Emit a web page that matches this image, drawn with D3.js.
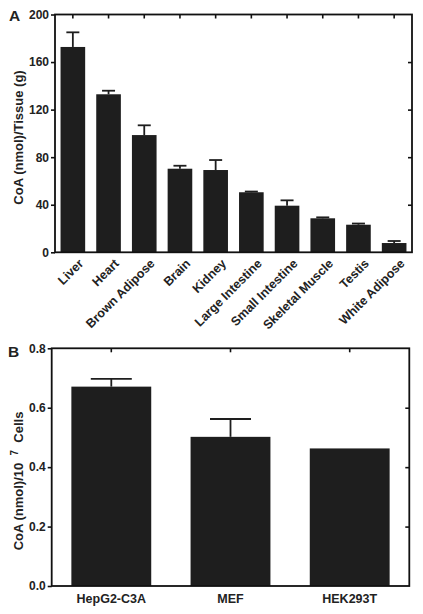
<!DOCTYPE html>
<html><head><meta charset="utf-8">
<script src="https://cdn.jsdelivr.net/npm/d3@7"></script>
<style>
body{margin:0;background:#fff;}
text{font-family:"Liberation Sans",Arial,sans-serif;font-weight:bold;fill:#222;}
</style></head>
<body><svg id="c" width="423" height="614"></svg>
<script>
// Panel A data
const tissues = ["Liver","Heart","Brown Adipose","Brain","Kidney","Large Intestine","Small Intestine","Skeletal Muscle","Testis","White Adipose"];
const tissueCoA = [172.7, 132.9, 98.6, 70.3, 69.2, 50.5, 39.2, 28.6, 23.2, 7.8];
const tissueErr = [12.3, 3.0, 8.2, 2.5, 8.4, 0.6, 4.5, 0.8, 1.0, 1.7];
const tickA = [0, 40, 80, 120, 160, 200];
// Panel B data
const cells = ["HepG2-C3A","MEF","HEK293T"];
const cellCoA = [0.671, 0.502, 0.463];
const cellErr = [0.026, 0.060, 0.0];
const tickB = [0.0, 0.2, 0.4, 0.6, 0.8];

const svg = d3.select("#c");
const ink = "#1e1e1e";

function panel(o){
  const g = svg.append("g");
  const x = d3.scaleBand().domain(o.cats).range([o.x0, o.x1]).paddingInner(o.pad).paddingOuter(o.pad/2);
  const y = d3.scaleLinear().domain(o.dom).range([o.y0, o.y1]);
  g.selectAll("rect.bar").data(o.vals).join("rect")
    .attr("x",(d,i)=>x(o.cats[i])).attr("width",x.bandwidth())
    .attr("y",d=>y(d)).attr("height",d=>y(o.dom[0])-y(d)).attr("fill",ink);
  o.vals.forEach((v,i)=>{
    if(o.errs[i] <= 0) return;
    const cx = x(o.cats[i]) + x.bandwidth()/2;
    g.append("line").attr("x1",cx).attr("x2",cx).attr("y1",y(v)).attr("y2",y(v+o.errs[i])).attr("stroke",ink).attr("stroke-width",1.8);
    g.append("line").attr("x1",cx-o.cap/2).attr("x2",cx+o.cap/2).attr("y1",y(v+o.errs[i])).attr("y2",y(v+o.errs[i])).attr("stroke",ink).attr("stroke-width",1.8);
  });
  const la = g.append("g").attr("transform",`translate(${o.x0},0)`)
    .call(d3.axisLeft(y).tickValues(o.ticks).tickFormat(o.fmt).tickSize(4).tickPadding(2));
  la.select(".domain").remove();
  la.selectAll("line").attr("stroke","#111").attr("stroke-width",1.6);
  la.selectAll("text").style("font-size","12px").attr("fill","#222");
  const ra = g.append("g").attr("transform",`translate(${o.x1},0)`)
    .call(d3.axisLeft(y).tickValues(o.ticks.slice(1,-1)).tickFormat("").tickSize(4));
  ra.select(".domain").remove();
  ra.selectAll("line").attr("stroke","#111").attr("stroke-width",1.6);
  const ta = g.append("g").attr("transform",`translate(0,${o.y1})`)
    .call(d3.axisBottom(x).tickFormat("").tickSize(4));
  ta.select(".domain").remove();
  ta.selectAll("line").attr("stroke","#111").attr("stroke-width",1.6);
  g.append("rect").attr("x",o.x0).attr("y",o.y1).attr("width",o.x1-o.x0).attr("height",o.y0-o.y1)
    .attr("fill","none").attr("stroke","#111").attr("stroke-width",1.8);
  return {x,y,g};
}

// Panel A
const A = panel({cats:tissues, vals:tissueCoA, errs:tissueErr, ticks:tickA, fmt:d3.format("d"),
  x0:55, x1:412, y0:252.3, y1:14.5, dom:[0,200], pad:0.31, cap:13});
A.g.selectAll("text.xl").data(tissues).join("text").attr("class","xl")
  .attr("transform",d=>`translate(${A.x(d)+A.x.bandwidth()/2+5},${258}) rotate(-45)`)
  .attr("text-anchor","end").attr("dy","0.71em").style("font-size","12.5px").text(d=>d);
svg.append("text").attr("transform","translate(22.5,137.5) rotate(-90)").attr("text-anchor","middle")
  .style("font-size","13px").text("CoA (nmol)/Tissue (g)");
svg.append("text").attr("x",9).attr("y",20.5).style("font-size","15.5px").text("A");

// Panel B
const B = panel({cats:cells, vals:cellCoA, errs:cellErr, ticks:tickB, fmt:d3.format(".1f"),
  x0:51.7, x1:409.3, y0:586, y1:348.3, dom:[0,0.8], pad:0.33, cap:41});
B.g.selectAll("text.xl").data(cells).join("text").attr("class","xl")
  .attr("x",d=>B.x(d)+B.x.bandwidth()/2).attr("y",602.5).attr("text-anchor","middle")
  .style("font-size","12.5px").text(d=>d);
const tb = svg.append("text").attr("transform","translate(22.5,481) rotate(-90)").attr("text-anchor","middle")
  .style("font-size","13px").style("white-space","pre");
tb.append("tspan").text("CoA (nmol)/10  ");
tb.append("tspan").attr("dy","-5").style("font-size","10px").text("7");
tb.append("tspan").attr("dy","5").text("  Cells");
svg.append("text").attr("x",8).attr("y",356.5).style("font-size","15.5px").text("B");
</script></body></html>
